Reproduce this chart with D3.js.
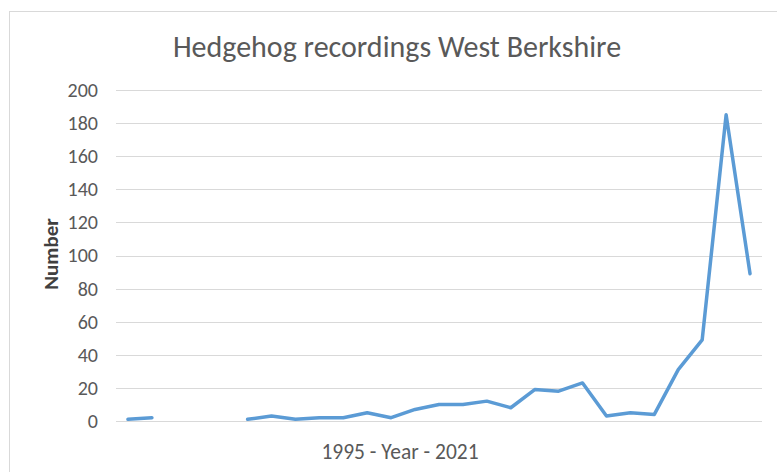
<!doctype html>
<html>
<head>
<meta charset="utf-8">
<title>Hedgehog recordings West Berkshire</title>
<script src="https://cdnjs.cloudflare.com/ajax/libs/d3/7.8.5/d3.min.js"></script>
<style>
body { margin: 0; background: #fff; }
text { font-family: Carlito, "Open Sans", "Noto Sans", sans-serif; }
</style>
</head>
<body>
<div id="chartContainer"></div>
<script>
// data, 1995..2021, null = no record
var years = d3.range(1995, 2022);
var counts = [1, 2, null, null, null, 1, 3, 1, 2, 2, 5, 2, 7, 10, 10, 12, 8, 19, 18, 23, 3, 5, 4, 31, 49, 185, 89];
var yTicks = [0, 20, 40, 60, 80, 100, 120, 140, 160, 180, 200];

var W = 777, H = 472;
var plot = {left: 116, right: 762, top: 90, bottom: 421};

var svg = d3.select("#chartContainer").append("svg")
    .attr("width", W).attr("height", H);

// chart frame
svg.append("rect")
    .attr("x", 9.5).attr("y", 11.5)
    .attr("width", 790).attr("height", 480)
    .attr("fill", "#fff")
    .attr("stroke", "#d9d9d9");

var x = d3.scaleBand().domain(years).range([plot.left, plot.right]);
var y = d3.scaleLinear().domain([0, 200]).range([plot.bottom, plot.top]);

// gridlines
svg.append("g").selectAll("line")
    .data(yTicks)
    .enter().append("line")
    .attr("x1", plot.left).attr("x2", plot.right)
    .attr("y1", function(d){ return Math.round(y(d)) + 0.5; })
    .attr("y2", function(d){ return Math.round(y(d)) + 0.5; })
    .attr("stroke", "#d9d9d9")
    .attr("stroke-width", 1);

// y tick labels
var yAxis = svg.append("g")
    .attr("transform", "translate(98,0)")
    .call(d3.axisLeft(y).tickValues(yTicks).tickSize(0).tickPadding(0));
yAxis.select(".domain").remove();
yAxis.selectAll("text")
    .attr("fill", "#595959")
    .style("font-size", "20px");

// the line
var line = d3.line()
    .defined(function(d){ return d != null; })
    .x(function(d, i){ return x(years[i]) + x.bandwidth() / 2; })
    .y(function(d){ return y(d); });

svg.append("path")
    .datum(counts)
    .attr("d", line)
    .attr("fill", "none")
    .attr("stroke", "#5b9bd5")
    .attr("stroke-width", 3.5)
    .attr("stroke-linejoin", "round")
    .attr("stroke-linecap", "round");

// titles
svg.append("text")
    .attr("x", 397).attr("y", 57)
    .attr("text-anchor", "middle")
    .attr("fill", "#595959")
    .style("font-size", "30px")
    .text("Hedgehog recordings West Berkshire");

svg.append("text")
    .attr("x", 400).attr("y", 459)
    .attr("text-anchor", "middle")
    .attr("fill", "#595959")
    .style("font-size", "21.5px")
    .text("1995 - Year - 2021");

svg.append("text")
    .attr("transform", "translate(58,254) rotate(-90)")
    .attr("text-anchor", "middle")
    .attr("fill", "#404040")
    .style("font-size", "21px")
    .style("font-weight", "bold")
    .text("Number");
</script>
</body>
</html>
